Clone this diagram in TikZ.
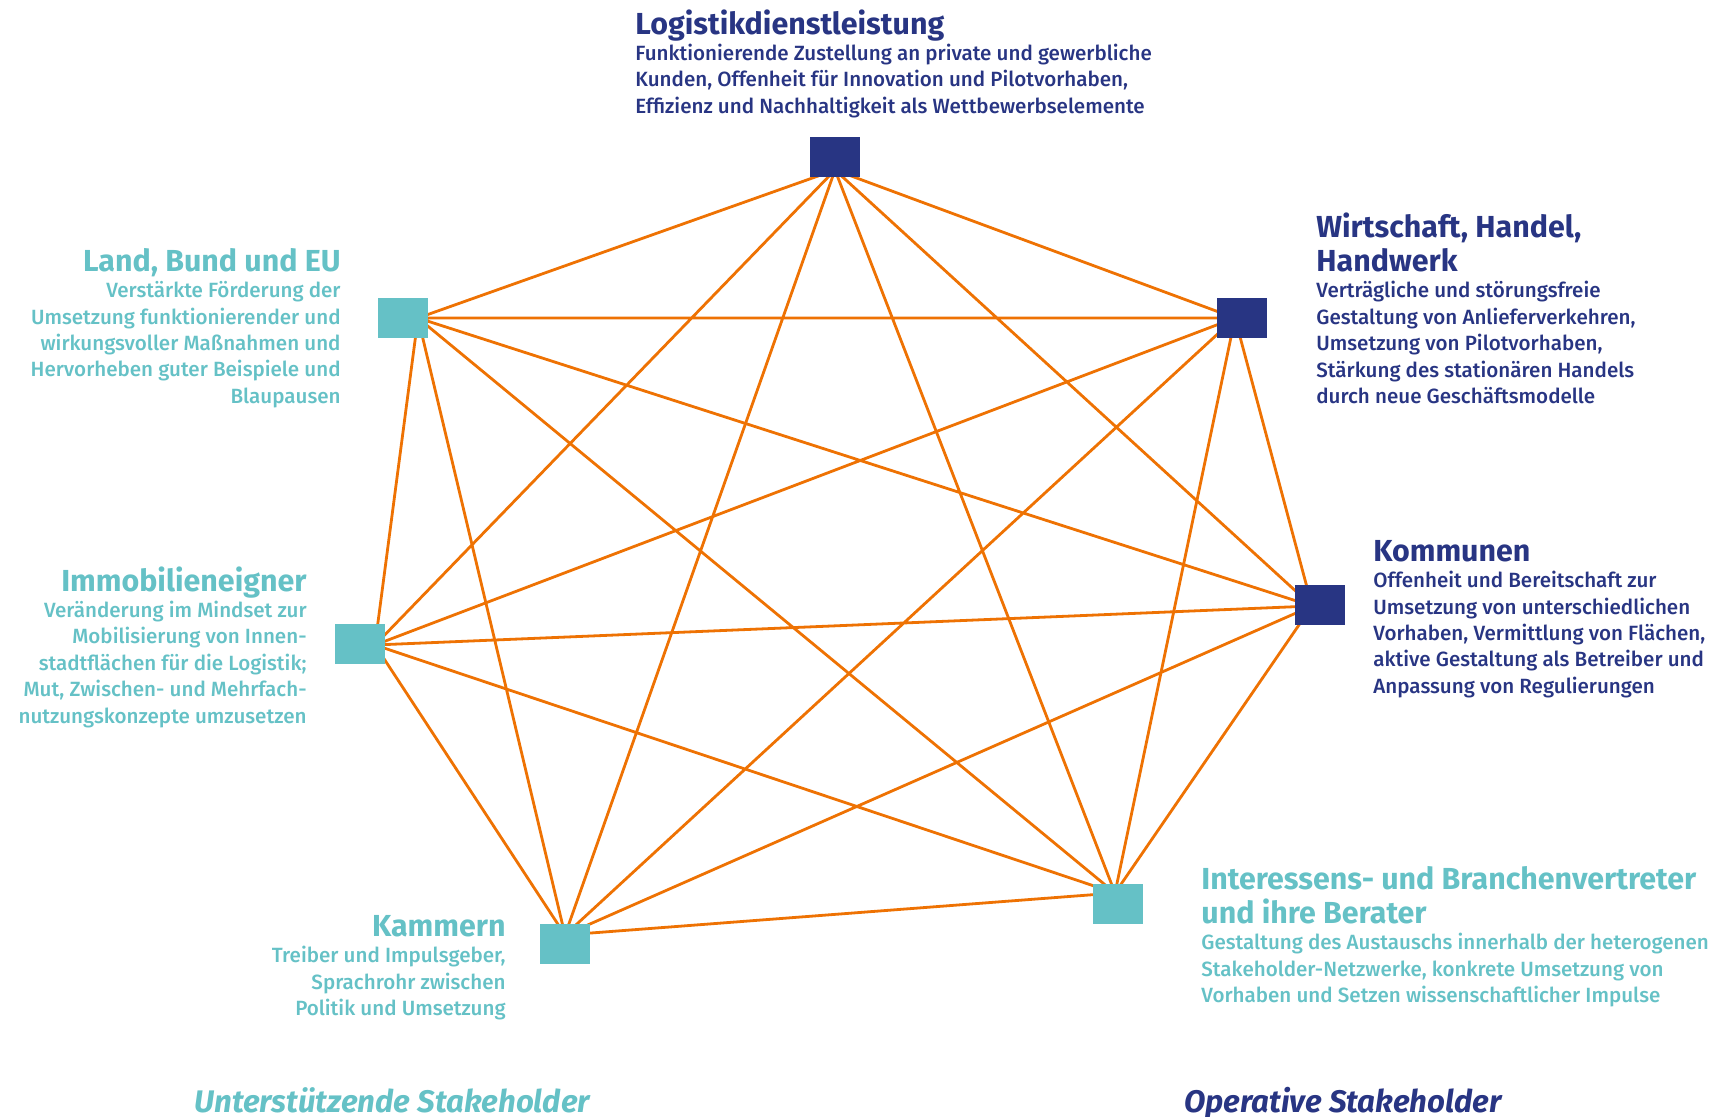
\documentclass[tikz,border=0pt]{standalone}
\usepackage{fontspec}
\setmainfont{Fira Sans}[UprightFont={* Medium},BoldFont={* Bold},ItalicFont={* Medium Italic},BoldItalicFont={* Bold Italic}]
\usetikzlibrary{positioning}

\definecolor{dunkelblau}{RGB}{40,53,131}
\definecolor{tuerkis}{RGB}{101,193,198}
\definecolor{linie}{RGB}{238,114,3}

% fixed height for the first line, so north anchors sit at a known distance
\newcommand{\oben}{\rule{0pt}{12pt}}
\newcommand{\titel}{\fontsize{15.2}{17}\selectfont\bfseries}

\tikzset{
    box/.style={minimum width=25pt, minimum height=20pt, inner sep=0pt},
    op/.style={box, fill=dunkelblau},
    un/.style={box, fill=tuerkis},
    kante/.style={draw=linie, line width=1.4pt},
    besch/.style={inner sep=0pt, font=\fontsize{10.3}{13.2}\selectfont},
    legende/.style={anchor=base west, inner sep=0pt, font=\fontsize{15.6}{17}\selectfont\bfseries\itshape},
}

\begin{document}
\begin{tikzpicture}[x=0.5pt, y=-0.5pt]
    \useasboundingbox (0,0) rectangle (1721,1117);

    % hubs where the connectors meet
    \coordinate (a) at (835,170);
    \coordinate (b) at (418,318);
    \coordinate (c) at (1235,318);
    \coordinate (d) at (1312,606);
    \coordinate (e) at (375,645);
    \coordinate (f) at (565,935);
    \coordinate (g) at (1115,893);

    \draw [kante] (a) -- (b) (a) -- (c) (a) -- (d) (a) -- (e) (a) -- (f) (a) -- (g)
        (b) -- (c) (b) -- (d) (b) -- (e) (b) -- (f) (b) -- (g)
        (c) -- (d) (c) -- (e) (c) -- (f) (c) -- (g)
        (d) -- (e) (d) -- (f) (d) -- (g)
        (e) -- (f) (e) -- (g)
        (f) -- (g);

    % stakeholder boxes
    \node [op] (la) at (835,157) {};
    \node [un] (lb) at (403,318) {};
    \node [op] (lc) at (1242,318) {};
    \node [op] (ld) at (1320,605) {};
    \node [un] (le) at (360,644) {};
    \node [un] (lf) at (565,944) {};
    \node [un] (lg) at (1118,904) {};

    % texts
    \node [besch, anchor=north west, align=left, text=dunkelblau] (ta) at (635,9)
        {{\titel\oben Logistikdienstleistung}\\
        Funktionierende Zustellung an private und gewerbliche\\
        Kunden, Offenheit für Innovation und Pilotvorhaben,\\
        Effizienz und Nachhaltigkeit als Wettbewerbselemente};
    \node [besch, anchor=north east, align=right, text=tuerkis] (tb) at (341,247)
        {{\titel\oben Land, Bund und EU}\\
        Verstärkte Förderung der\\
        Umsetzung funktionierender und\\
        wirkungsvoller Maßnahmen und\\
        Hervorheben guter Beispiele und\\
        Blaupausen};
    \node [besch, anchor=north west, align=left, text=dunkelblau] (tc) at (1316,212)
        {{\titel\oben Wirtschaft, Handel,}\\[2pt]
        {\titel Handwerk}\\
        Verträgliche und störungsfreie\\
        Gestaltung von Anlieferverkehren,\\
        Umsetzung von Pilotvorhaben,\\
        Stärkung des stationären Handels\\
        durch neue Geschäftsmodelle};
    \node [besch, anchor=north west, align=left, text=dunkelblau] (td) at (1373,537)
        {{\titel\oben Kommunen}\\
        Offenheit und Bereitschaft zur\\
        Umsetzung von unterschiedlichen\\
        Vorhaben, Vermittlung von Flächen,\\
        aktive Gestaltung als Betreiber und\\
        Anpassung von Regulierungen};
    \node [besch, anchor=north east, align=right, text=tuerkis] (te) at (307,566)
        {{\titel\oben Immobilieneigner}\\
        Veränderung im Mindset zur\\
        Mobilisierung von Innen-\\
        stadtflächen für die Logistik;\\
        Mut, Zwischen- und Mehrfach-\\
        nutzungskonzepte umzusetzen};
    \node [besch, anchor=north east, align=right, text=tuerkis] (tf) at (506,912)
        {{\titel\oben Kammern}\\
        Treiber und Impulsgeber,\\
        Sprachrohr zwischen\\
        Politik und Umsetzung};
    \node [besch, anchor=north west, align=left, text=tuerkis] (tg) at (1201,865)
        {{\titel\oben Interessens- und Branchenvertreter}\\[3.8pt]
        {\titel und ihre Berater}\\
        Gestaltung des Austauschs innerhalb der heterogenen\\
        Stakeholder-Netzwerke, konkrete Umsetzung von\\
        Vorhaben und Setzen wissenschaftlicher Impulse};

    % legend
    \node [legende, text=tuerkis] (un) at (194,1112) {Unterstützende Stakeholder};
    \node [legende, text=dunkelblau] (opl) at (1184,1112) {Operative Stakeholder};
\end{tikzpicture}
\end{document}
